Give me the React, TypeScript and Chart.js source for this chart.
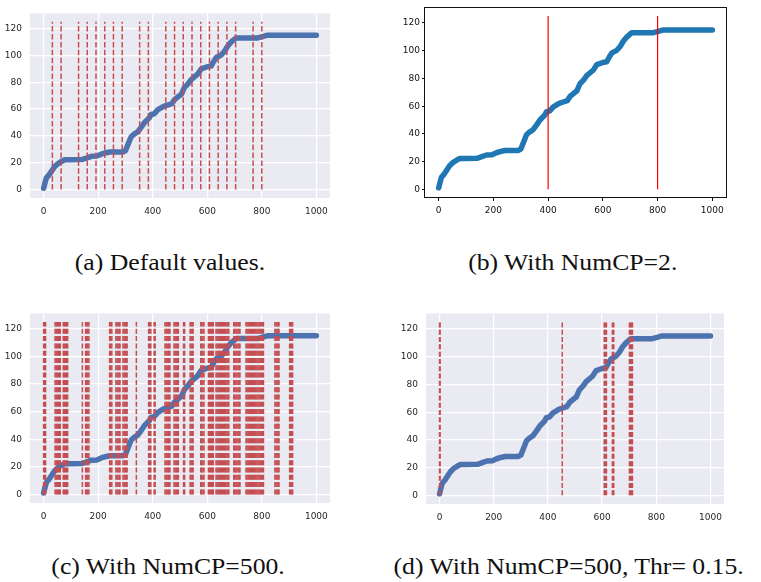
import React, { useEffect, useRef } from "react";
import { Chart, registerables } from "chart.js";
Chart.register(...registerables);

// ---- data ----
const curveX = [0, 5, 10, 20, 28, 40, 52, 65, 77, 100, 140, 150, 175, 195, 211, 230, 242, 290, 300, 309, 321, 333, 345, 358, 370, 388, 394, 405, 419, 440, 455, 470, 480, 498, 505, 516, 530, 541, 559, 565, 578, 600, 614, 625, 633, 651, 663, 675, 688, 706, 785, 803, 821, 1000];
const curveY = [1, 5, 8.7, 11, 13.4, 17, 19.3, 21, 22.2, 22.2, 22.4, 23, 24.8, 25, 26.4, 27.5, 28, 28, 29, 33.5, 39.4, 41.5, 43, 46.5, 50, 53.6, 56, 56.4, 59.5, 62, 63, 64, 67, 70, 71, 76, 79, 82, 85, 86, 90, 91.5, 92, 96, 98.4, 100.3, 103, 107, 110, 113, 113, 114, 115, 115];

const xTicks = [0, 200, 400, 600, 800, 1000];
const yTicks = [0, 20, 40, 60, 80, 100, 120];
const xRange = [-50, 1050];
const yRange = [-6.25, 131.25];
const cpLineBottom = 0;
const cpLineTop = 125;

const cpA = [32, 64, 128, 160, 192, 224, 256, 288, 352, 384, 448, 480, 512, 544, 576, 608, 640, 672, 704, 768, 800];
const cpB = [400, 800];
const cpC = [0, 4, 7, 42, 46, 50, 54, 58, 61, 72, 76, 80, 84, 88, 142, 154, 158, 162, 166, 242, 246, 250, 265, 269, 273, 277, 280, 291, 295, 299, 303, 306, 340, 385, 389, 393, 405, 409, 445, 449, 453, 457, 461, 463, 478, 482, 486, 490, 494, 513, 517, 537, 541, 545, 548, 576, 580, 584, 588, 604, 608, 612, 616, 620, 622, 632, 636, 640, 644, 648, 652, 656, 660, 664, 668, 672, 676, 679, 697, 701, 705, 709, 713, 717, 720, 742, 746, 750, 754, 758, 762, 766, 770, 774, 778, 782, 786, 790, 794, 798, 802, 806, 848, 852, 856, 860, 863, 902, 906, 910, 913];
const cpD = [0, 2, 453, 608, 612, 616, 638, 643, 701, 705, 709, 712];

const captionA = "(a) Default values.";
const captionB = "(b) With NumCP=2.";
const captionC = "(c) With NumCP=500.";
const captionD = "(d) With NumCP=500, Thr= 0.15.";

type PanelProps = {
  left: number; top: number; width: number; height: number;
  area: { l: number; r: number; t: number; b: number };
  seaborn: boolean;
  cps: number[];
  curveColor: string;
  lineColor: string;
  lineWidth: number;
  dash: number[];
};

function Panel(p: PanelProps) {
  const ref = useRef<HTMLCanvasElement | null>(null);
  useEffect(() => {
    const canvas = ref.current;
    if (!canvas) return;
    const tickColor = p.seaborn ? "#262626" : "#111";
    const datasets: any[] = p.cps.map((x) => ({
      data: [{ x, y: cpLineBottom }, { x, y: cpLineTop }],
      borderColor: p.lineColor,
      borderWidth: p.lineWidth,
      borderDash: p.dash,
      pointRadius: 0,
      fill: false,
      tension: 0,
      order: 0,
    }));
    datasets.push({
      data: curveX.map((x, i) => ({ x, y: curveY[i] })),
      borderColor: p.curveColor,
      borderWidth: 5.5,
      borderCapStyle: "round",
      borderJoinStyle: "round",
      pointRadius: 0,
      fill: false,
      tension: 0,
      order: 1,
    });
    const bgPlugin = {
      id: "bgframe",
      beforeDraw(chart: any) {
        if (!p.seaborn) return;
        const a = chart.chartArea;
        const ctx = chart.ctx;
        ctx.save();
        ctx.fillStyle = "#eaeaf2";
        ctx.fillRect(a.left, a.top, a.right - a.left, a.bottom - a.top);
        ctx.restore();
      },
      afterDraw(chart: any) {
        if (p.seaborn) return;
        const a = chart.chartArea;
        const ctx = chart.ctx;
        ctx.save();
        ctx.strokeStyle = "#111";
        ctx.lineWidth = 1;
        ctx.strokeRect(Math.round(a.left) - 0.5, Math.round(a.top) + 0.5, Math.round(a.right - a.left) + 1, Math.round(a.bottom - a.top) - 1);
        ctx.restore();
      },
    };
    const grid = p.seaborn
      ? { display: true, color: "#ffffff", lineWidth: 1.2, drawTicks: false, drawOnChartArea: true }
      : { display: true, color: "#111", lineWidth: 1, drawTicks: true, tickLength: 3, drawOnChartArea: false };
    const font = { family: "'DejaVu Sans'", size: 9 };
    const chart = new Chart(canvas, {
      type: "line",
      data: { datasets },
      plugins: [bgPlugin],
      options: {
        animation: false,
        responsive: false,
        maintainAspectRatio: false,
        events: [],
        layout: { padding: { left: 0, right: p.width - p.area.r, top: p.area.t, bottom: 0 } },
        plugins: { legend: { display: false }, tooltip: { enabled: false } },
        scales: {
          x: {
            type: "linear",
            min: xRange[0],
            max: xRange[1],
            afterBuildTicks: (s: any) => { s.ticks = xTicks.map((v) => ({ value: v })); },
            afterFit: (s: any) => { s.height = p.height - p.area.b; },
            ticks: { autoSkip: false, maxRotation: 0, color: tickColor, font, padding: p.seaborn ? 8 : 4, callback: (v: any) => String(v) },
            grid,
            border: { display: false },
          },
          y: {
            type: "linear",
            min: yRange[0],
            max: yRange[1],
            afterBuildTicks: (s: any) => { s.ticks = yTicks.map((v) => ({ value: v })); },
            afterFit: (s: any) => { s.width = p.area.l; },
            ticks: { autoSkip: false, color: tickColor, font, padding: p.seaborn ? 8 : 2, callback: (v: any) => String(v) },
            grid,
            border: { display: false },
          },
        },
      } as any,
    });
    return () => chart.destroy();
  }, []);
  return (
    <canvas
      ref={ref}
      width={p.width}
      height={p.height}
      style={{ position: "absolute", left: p.left, top: p.top, width: p.width, height: p.height, display: "block" }}
    />
  );
}

function Caption({ text, cx, cy }: { text: string; cx: number; cy: number }) {
  return (
    <div
      style={{
        position: "absolute",
        left: cx - 250,
        top: cy - 15,
        width: 500,
        height: 30,
        lineHeight: "30px",
        textAlign: "center",
        fontFamily: "'Liberation Serif', serif",
        fontSize: 24,
        color: "#111",
        whiteSpace: "nowrap",
      }}
    >
      <span style={{ display: "inline-block", transform: "scaleX(1.07)" }}>{text}</span>
    </div>
  );
}

export default function App() {
  return (
    <div style={{ position: "absolute", left: 0, top: 0, width: 761, height: 582, background: "#fff", overflow: "hidden" }}>
      <Panel left={0} top={0} width={380} height={230} area={{ l: 30, r: 330, t: 3, b: 198 }} seaborn={true} cps={cpA} curveColor="#4c72b0" lineColor="#c44e52" lineWidth={1.5} dash={[5.5, 2.4]} />
      <Panel left={380} top={0} width={381} height={230} area={{ l: 45, r: 346, t: 3, b: 198 }} seaborn={false} cps={cpB} curveColor="#1f77b4" lineColor="#ff0000" lineWidth={1.2} dash={[]} />
      <Panel left={0} top={300} width={380} height={230} area={{ l: 30, r: 330, t: 10, b: 203 }} seaborn={true} cps={cpC} curveColor="#4c72b0" lineColor="#c44e52" lineWidth={1.5} dash={[5, 2.3]} />
      <Panel left={380} top={300} width={381} height={230} area={{ l: 46, r: 344, t: 10, b: 204 }} seaborn={true} cps={cpD} curveColor="#4c72b0" lineColor="#c44e52" lineWidth={1.5} dash={[5, 2.3]} />
      <Caption text={captionA} cx={170} cy={262} />
      <Caption text={captionB} cx={573} cy={262} />
      <Caption text={captionC} cx={168} cy={566} />
      <Caption text={captionD} cx={569} cy={566} />
    </div>
  );
}
